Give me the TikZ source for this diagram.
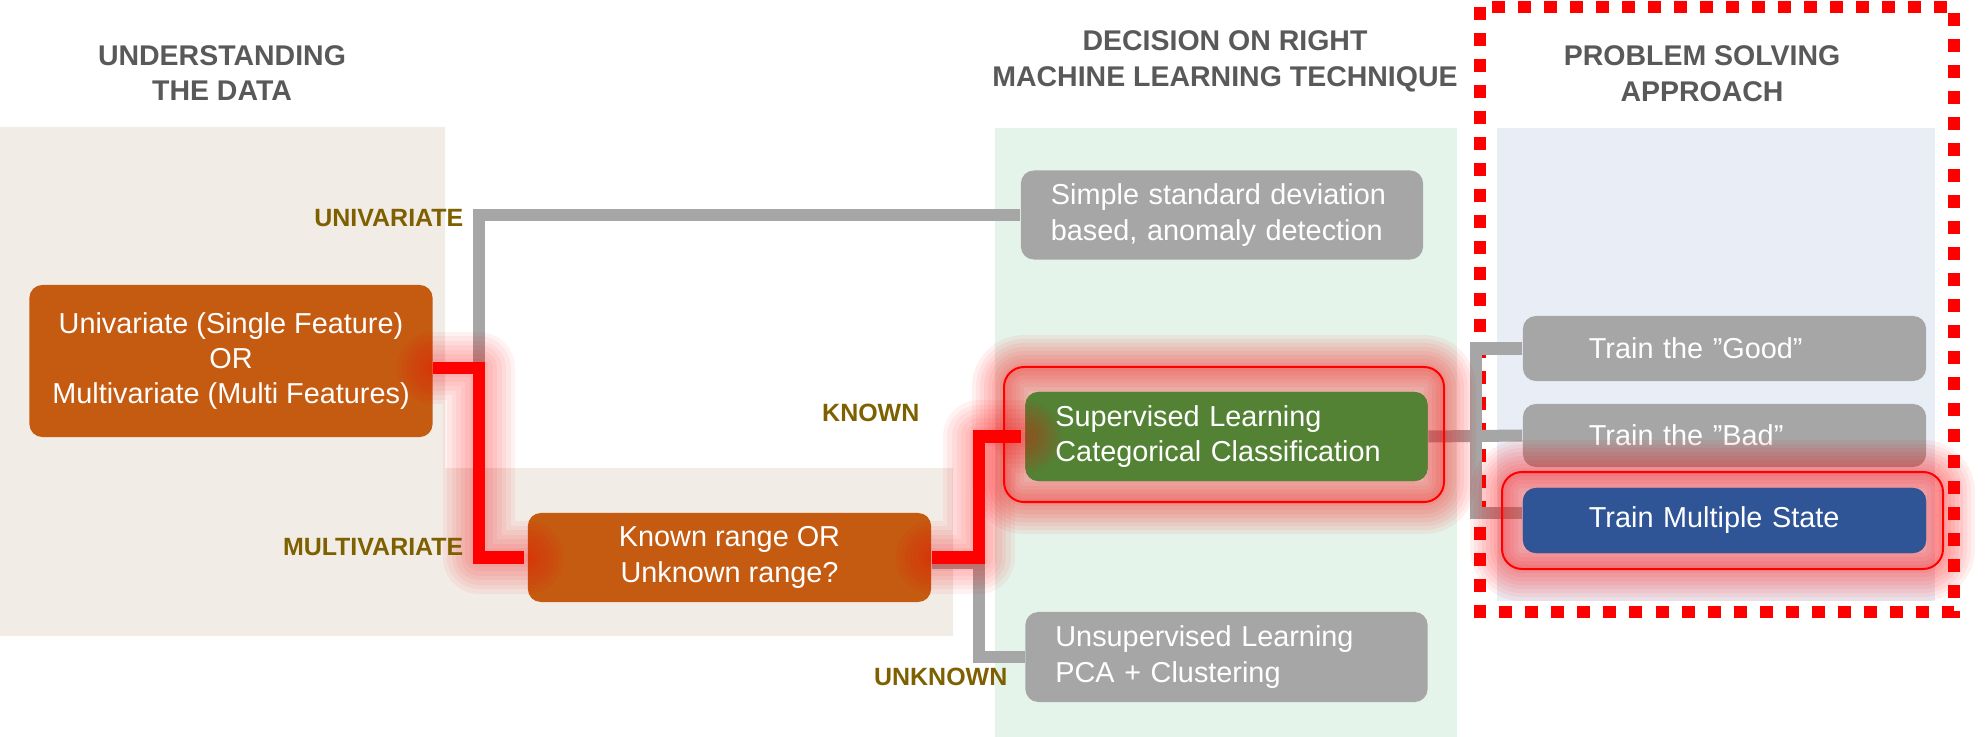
\documentclass[tikz,border=0pt]{standalone}
\usepackage{fontspec}
\setmainfont{Liberation Sans}

\definecolor{rust}{HTML}{C55A11}
\definecolor{leaf}{HTML}{548235}
\definecolor{navy}{HTML}{2F5597}
\definecolor{ash}{HTML}{A6A6A6}
\definecolor{sand}{HTML}{F2ECE6}
\definecolor{mint}{HTML}{E4F4EA}
\definecolor{mist}{HTML}{E9EDF5}
\definecolor{tagbrown}{HTML}{7F6000}
\definecolor{slate}{HTML}{595959}

\tikzset{
  box/.style={rounded corners=0.13cm, text=white, inner sep=0pt,
    font=\fontsize{8.2}{10}\selectfont},
  cbox/.style={box, fill=rust, align=center, minimum width=4.03cm},
  lbox/.style={box, align=left, text width=3.42cm, inner xsep=0.3cm, minimum height=0.89cm},
  trainbox/.style={box, align=left, text width=2.71cm, inner xsep=0.66cm, minimum height=0.65cm},
  title/.style={align=center, text=slate, font=\bfseries\fontsize{8.1}{10.2}\selectfont},
  tag/.style={anchor=east, inner sep=0pt, text=tagbrown, font=\bfseries\fontsize{7.1}{8.5}\selectfont},
  wire/.style={draw=ash, line width=0.12cm},
  hot/.style={draw=red, line width=0.12cm},
  ring/.style={draw=red, line width=0.02cm, rounded corners=0.2cm}
}

\begin{document}
\begin{tikzpicture}[x=0.01cm, y=-0.01cm]
    \useasboundingbox (0,0) rectangle (1985,737);
    % backgrounds of the three columns
    \fill[sand] (0,127) -- (445,127) -- (445,468) -- (953,468) -- (953,636) -- (0,636) -- cycle;
    \fill[mint] (995,128) rectangle (1457,737);
    \fill[mist] (1497,128) rectangle (1935,601);
    \draw[red, line width=0.12cm, dash pattern=on 0.13cm off 0.13cm] (1480,7) rectangle (1954,612);

    \node[title] (t1) at (222,73) {UNDERSTANDING\\THE DATA};
    \node[title] (t2) at (1225,61) {DECISION ON RIGHT\\MACHINE LEARNING TECHNIQUE};
    \node[title] (t3) at (1702,73.5) {PROBLEM SOLVING\\APPROACH};

    \coordinate (j1) at (479,0);
    \coordinate (j2) at (979,0);
    \coordinate (j3) at (1476,0);

    \node[cbox, minimum height=1.52cm] (uni) at (231,361) {Univariate (Single Feature)\\OR\\Multivariate (Multi Features)};
    \node[cbox, minimum height=0.89cm] (krange) at (729.5,557.5) {Known range OR\\Unknown range?};
    \node[lbox, fill=ash] (simple) at (1222,215) {Simple standard deviation\\based, anomaly detection};
    \node[lbox, fill=leaf] (sup) at (1226.5,436.5) {Supervised Learning\\Categorical Classification};
    \node[lbox, fill=ash, minimum height=0.9cm] (unsup) at (1226.5,657) {Unsupervised Learning\\PCA + Clustering};
    \node[trainbox, fill=ash] (good) at (1724.5,348.5) {Train the ”Good”};
    \node[trainbox, fill=ash, minimum height=0.63cm] (bad) at (1724.5,435.5) {Train the ”Bad”};
    \node[trainbox, fill=navy] (multi) at (1724.5,520.5) {Train Multiple State};

    % grey connectors
    \draw[wire] ([yshift=-0.07cm]uni.east) -| (simple.west -| j1) -- (simple.west);
    \draw[wire] ([yshift=-0.05cm]krange.east) -| (unsup.west -| j2) -- (unsup.west);
    \draw[wire] (sup.east) -- (bad.west);
    \draw[wire] (good.west) -| ([yshift=0.07cm]multi.west -| j3) -- ([yshift=0.07cm]multi.west);

    % glow round the chosen boxes
    \foreach \i in {1,...,8} {
        \draw[red, opacity=0.06, line width=\i*0.08cm, rounded corners=0.2cm] (1004,367) rectangle (1444,502);
        \draw[red, opacity=0.06, line width=\i*0.08cm, rounded corners=0.2cm] (1502,472) rectangle (1943,569);
    }
    \fill[red, opacity=0.15, rounded corners=0.2cm] (1004,367) rectangle (1444,502);
    \fill[red, opacity=0.15, rounded corners=0.2cm] (1502,472) rectangle (1943,569);
    \node[lbox, fill=leaf] at (sup) {Supervised Learning\\Categorical Classification};
    \node[trainbox, fill=navy] at (multi) {Train Multiple State};
    \draw[ring] (1004,367) rectangle (1444,502);
    \draw[ring] (1502,472) rectangle (1943,569);

    % glow round the chosen path
    \foreach \i in {1,...,8} {
        \draw[red, opacity=0.05, line width=\i*0.09cm, line join=round, line cap=round]
            ([yshift=-0.07cm]uni.east) -| (krange.west -| j1) -- (krange.west);
        \draw[red, opacity=0.05, line width=\i*0.09cm, line join=round, line cap=round]
            (krange.east) -| (sup.west -| j2) -- (sup.west);
    }
    \draw[hot] ([yshift=-0.07cm]uni.east) -| (krange.west -| j1) -- ([xshift=-0.03cm]krange.west);
    \draw[hot] (krange.east) -| (sup.west -| j2) -- ([xshift=-0.04cm]sup.west);

    \node[tag] (lu) at (464,218) {UNIVARIATE};
    \node[tag] (lm) at (464,547) {MULTIVARIATE};
    \node[tag] (lk) at (920,413) {KNOWN};
    \node[tag] (ln) at (1008,677) {UNKNOWN};
\end{tikzpicture}
\end{document}
